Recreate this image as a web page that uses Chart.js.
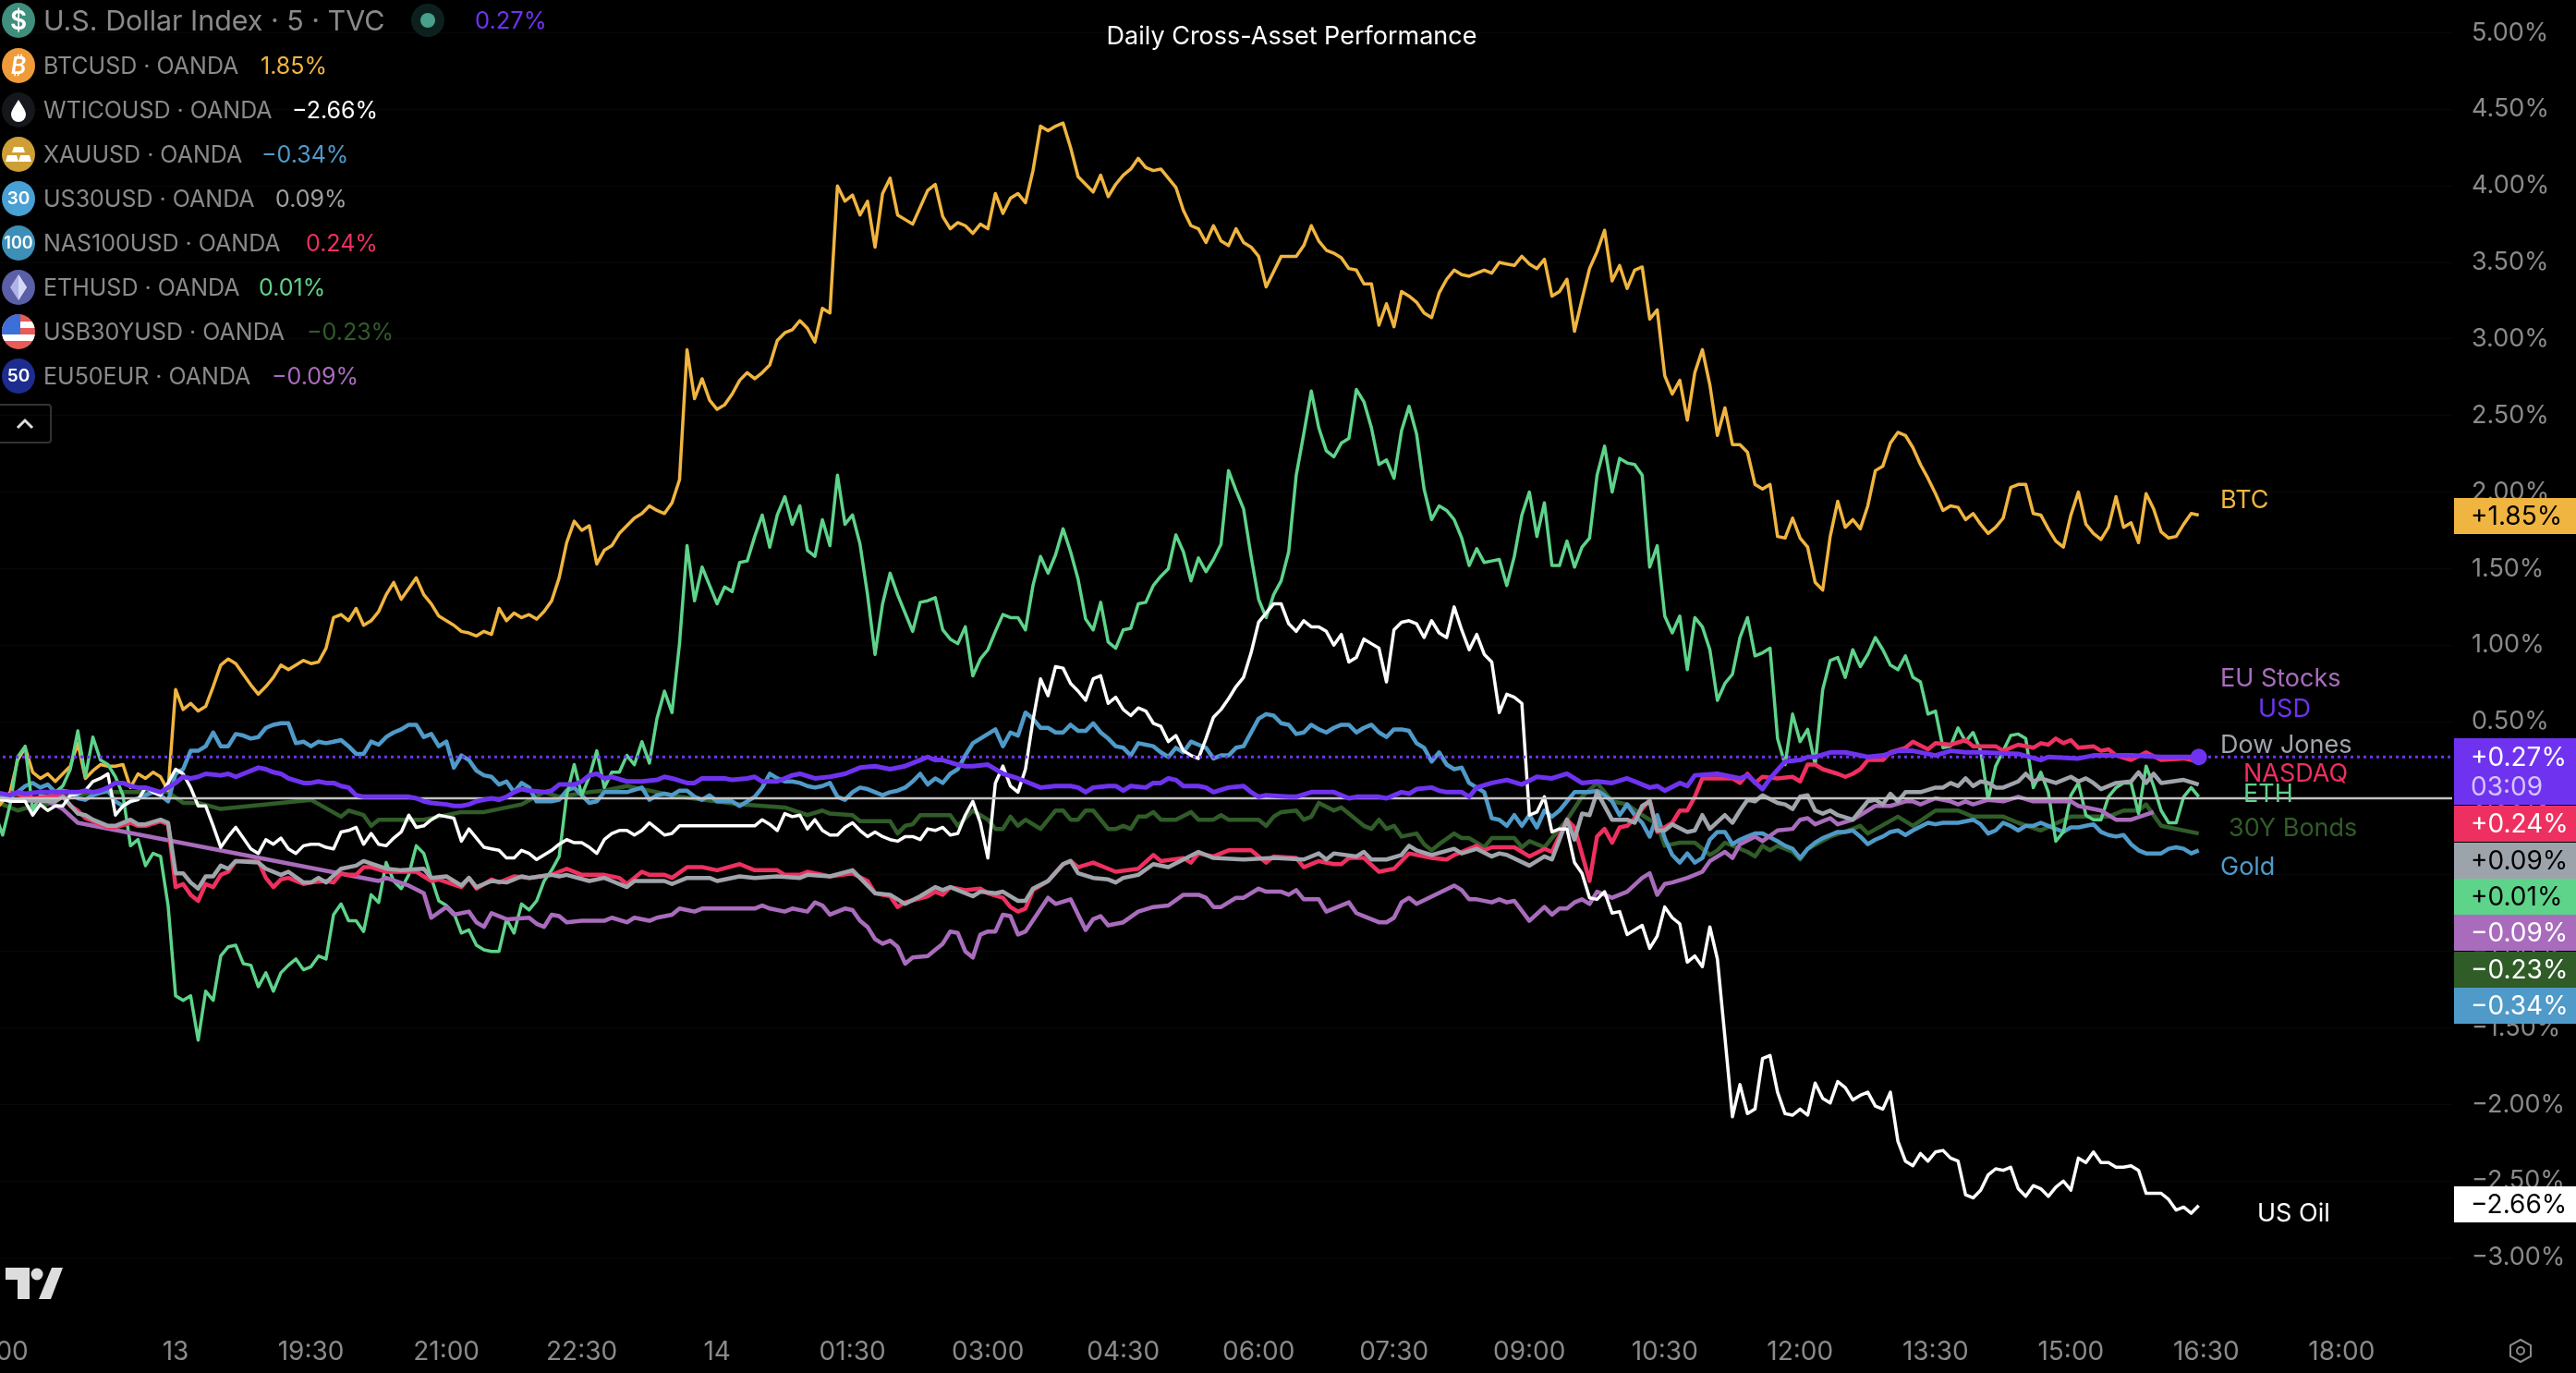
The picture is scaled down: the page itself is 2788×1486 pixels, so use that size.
<!DOCTYPE html>
<html>
<head>
<meta charset="utf-8">
<title>Daily Cross-Asset Performance</title>
<script src="https://cdn.jsdelivr.net/npm/chart.js@4"></script>
<style>
html, body { margin: 0; width: 2788px; height: 1486px; overflow: hidden; background: #000; }
canvas { position: absolute; left: -60px; top: 0; }
#legend { position: absolute; left: 0; top: 0; font-family: Inter, sans-serif; color: #8a8a8a; }
.row { position: absolute; left: 0; height: 40px; white-space: nowrap; font-size: 25px; line-height: 40px; }
.row .ico { position: absolute; left: 2px; top: 1px; width: 36px; height: 38px; border-radius: 50%; color: #fff; text-align: center; font-weight: 600; overflow: hidden; }
.row .name { position: absolute; left: 47px; top: 0; }
.row .val { position: absolute; top: 0; }
#collapse { position: absolute; left: -4px; top: 437px; width: 56px; height: 39px; border: 2px solid #333; border-radius: 4px; }
#logo { position: absolute; left: 6px; top: 1372px; }
#gear { position: absolute; left: 2714px; top: 1448px; }
</style>
</head>
<body>
<canvas id="chart" width="2848" height="1486"></canvas>
<div id="legend"></div>
<div id="collapse"><svg width="56" height="39"><path d="M21 24 L29 16 L37 24" fill="none" stroke="#ddd" stroke-width="3"/></svg></div>
<svg id="logo" width="62" height="34"><path d="M0 0h26v34h-13V13H0z M50 0h12L49 34H36z" fill="#ddd"/><circle cx="34" cy="7" r="6.5" fill="#ddd"/></svg>
<svg id="gear" width="28" height="28"><path d="M14 2 L25 8 V20 L14 26 L3 20 V8 Z" fill="none" stroke="#8a8a8a" stroke-width="2"/><circle cx="14" cy="14" r="4" fill="none" stroke="#8a8a8a" stroke-width="2"/></svg>
<script>
// 5 minute bars, bar 0 sits just off the left edge
const allBars = Array.from({ length: 294 }, (_, i) => i);
const timeTickBars = [0, 24, 42, 60, 78, 96, 114, 132, 150, 168, 186, 204, 222, 240, 258, 276, 294, 312];
const timeTickLabels = ["16:00", "13", "19:30", "21:00", "22:30", "14", "01:30", "03:00", "04:30", "06:00", "07:30", "09:00", "10:30", "12:00", "13:30", "15:00", "16:30", "18:00"];
const pctTicks = [5, 4.5, 4, 3.5, 3, 2.5, 2, 1.5, 1, 0.5, 0, -0.5, -1, -1.5, -2, -2.5, -3];

const btcPct = [
  -.08,-.02,.04,.25,.33,.17,.13,.16,.11,.16,
  .21,.36,.13,.18,.22,.21,.21,.22,.07,.16,
  .13,.17,.14,.05,.71,.58,.62,.57,.60,.73,
  .87,.91,.88,.81,.74,.68,.73,.79,.87,.84,
  .87,.90,.88,.89,.98,1.18,1.20,1.16,1.24,1.13,
  1.16,1.22,1.33,1.41,1.30,1.37,1.44,1.33,1.27,1.19,
  1.16,1.13,1.09,1.08,1.06,1.09,1.07,1.24,1.16,1.21,
  1.18,1.20,1.17,1.22,1.29,1.44,1.67,1.81,1.75,1.78,
  1.53,1.62,1.65,1.73,1.78,1.83,1.86,1.91,1.88,1.86,
  1.93,2.08,2.93,2.61,2.74,2.60,2.54,2.57,2.64,2.73,
  2.78,2.74,2.78,2.83,2.99,3.04,3.06,3.12,3.07,2.98,
  3.20,3.17,4.00,3.90,3.94,3.81,3.90,3.60,3.95,4.05,
  3.81,3.78,3.75,3.86,3.97,4.01,3.80,3.72,3.76,3.74,
  3.69,3.75,3.72,3.95,3.82,3.92,3.95,3.89,4.10,4.39,
  4.36,4.39,4.41,4.25,4.06,4.01,3.96,4.07,3.93,4.01,
  4.07,4.11,4.18,4.12,4.10,4.11,4.05,3.99,3.84,3.74,
  3.72,3.63,3.74,3.64,3.61,3.72,3.63,3.60,3.54,3.34,
  3.44,3.54,3.54,3.54,3.61,3.74,3.64,3.58,3.56,3.53,
  3.46,3.45,3.36,3.36,3.09,3.23,3.08,3.31,3.28,3.24,
  3.17,3.14,3.30,3.39,3.45,3.42,3.41,3.43,3.45,3.43,
  3.50,3.49,3.48,3.54,3.49,3.46,3.52,3.28,3.31,3.39,
  3.05,3.26,3.46,3.57,3.71,3.38,3.48,3.33,3.45,3.47,
  3.13,3.19,2.76,2.64,2.73,2.47,2.78,2.93,2.70,2.37,
  2.55,2.31,2.31,2.26,2.05,2.02,2.05,1.71,1.70,1.83,
  1.70,1.64,1.41,1.36,1.71,1.94,1.77,1.82,1.76,1.91,
  2.14,2.17,2.32,2.39,2.37,2.29,2.18,2.09,1.99,1.88,
  1.91,1.90,1.82,1.86,1.79,1.73,1.77,1.83,2.03,2.05,
  2.05,1.86,1.85,1.76,1.68,1.64,1.85,2.00,1.79,1.73,
  1.69,1.77,1.97,1.77,1.80,1.67,1.99,1.89,1.74,1.70,
  1.71,1.79,1.86,1.85
];

const ethPct = [
  -.10,-.24,-.04,.27,.34,-.08,.02,.01,.04,.08,
  .19,.44,.14,.40,.25,.22,.14,.02,-.31,-.27,
  -.44,-.36,-.38,-.70,-1.29,-1.32,-1.29,-1.58,-1.26,-1.32,
  -1.03,-.97,-.96,-1.08,-1.09,-1.23,-1.14,-1.26,-1.14,-1.09,
  -1.05,-1.12,-1.10,-1.03,-1.05,-.76,-.69,-.80,-.80,-.87,
  -.63,-.68,-.42,-.54,-.59,-.50,-.31,-.36,-.52,-.67,
  -.70,-.75,-.88,-.86,-.96,-.99,-1.00,-1.00,-.79,-.88,
  -.69,-.73,-.67,-.54,-.47,-.38,.02,.22,.02,.14,
  .31,.07,.17,.17,.28,.22,.37,.23,.52,.70,
  .56,1.01,1.65,1.29,1.51,1.39,1.27,1.38,1.35,1.54,
  1.55,1.71,1.85,1.64,1.85,1.97,1.79,1.91,1.62,1.58,
  1.82,1.65,2.11,1.79,1.85,1.66,1.33,.94,1.27,1.47,
  1.33,1.21,1.09,1.28,1.29,1.31,1.10,1.04,1.01,1.12,
  .80,.91,.97,1.09,1.20,1.18,1.18,1.10,1.39,1.58,
  1.47,1.59,1.76,1.61,1.43,1.17,1.10,1.28,1.02,.98,
  1.10,1.11,1.27,1.28,1.39,1.45,1.50,1.72,1.61,1.42,
  1.57,1.48,1.56,1.66,2.14,2.01,1.89,1.58,1.30,1.18,
  1.33,1.42,1.61,2.11,2.38,2.66,2.42,2.27,2.23,2.32,
  2.35,2.67,2.59,2.42,2.18,2.21,2.09,2.40,2.56,2.38,
  2.02,1.82,1.91,1.88,1.82,1.70,1.52,1.63,1.54,1.55,
  1.56,1.39,1.58,1.85,2.00,1.71,1.93,1.52,1.52,1.68,
  1.51,1.64,1.70,2.11,2.30,2.00,2.22,2.19,2.18,2.11,
  1.51,1.65,1.19,1.08,1.19,.84,1.18,1.12,.97,.64,
  .75,.81,1.05,1.18,.93,.95,.98,.39,.22,.55,
  .37,.45,.22,.71,.90,.92,.79,.97,.86,.94,
  1.05,.97,.87,.84,.93,.79,.76,.55,.57,.33,
  .34,.46,.37,.43,.31,-.01,.21,.31,.41,.42,
  .39,.07,.17,.04,-.28,-.22,.02,.10,-.11,-.14,
  -.14,.01,.07,.10,.10,-.10,.21,.08,-.08,-.16,
  -.16,.01,.07,.01
];

const oilPct = [
  -.01,-.01,-.02,-.02,-.02,-.11,-.04,-.08,-.05,-.05,
  .02,.03,.05,.11,.13,.16,-.11,-.05,-.02,-.01,
  .07,.04,.02,.10,.19,.16,.07,-.05,-.05,-.18,
  -.32,-.25,-.19,-.26,-.33,-.36,-.27,-.30,-.26,-.33,
  -.36,-.31,-.30,-.30,-.32,-.33,-.22,-.21,-.19,-.30,
  -.23,-.30,-.31,-.26,-.22,-.11,-.19,-.18,-.14,-.11,
  -.12,-.13,-.28,-.20,-.26,-.32,-.33,-.34,-.39,-.39,
  -.34,-.36,-.40,-.37,-.34,-.30,-.27,-.29,-.29,-.32,
  -.36,-.27,-.23,-.21,-.21,-.24,-.21,-.16,-.20,-.24,
  -.23,-.18,-.18,-.18,-.18,-.18,-.18,-.18,-.18,-.18,
  -.18,-.18,-.14,-.17,-.21,-.10,-.12,-.11,-.20,-.14,
  -.21,-.24,-.24,-.19,-.16,-.21,-.25,-.22,-.25,-.27,
  -.28,-.25,-.25,-.27,-.20,-.21,-.19,-.24,-.23,-.11,
  -.02,-.16,-.39,.10,.21,.08,.04,.19,.51,.78,
  .67,.86,.85,.75,.70,.64,.78,.80,.62,.66,
  .58,.54,.59,.57,.49,.47,.37,.41,.31,.28,
  .26,.39,.53,.58,.65,.73,.79,.95,1.15,1.21,
  1.27,1.27,1.14,1.09,1.16,1.12,1.12,1.09,1.00,1.07,
  .89,.92,1.04,1.01,.98,.76,1.10,1.15,1.16,1.14,
  1.05,1.16,1.08,1.05,1.25,1.10,.97,1.07,.94,.89,
  .56,.68,.66,.62,-.11,-.09,.01,-.22,-.20,-.20,
  -.42,-.49,-.65,-.66,-.61,-.75,-.74,-.89,-.86,-.83,
  -.98,-.90,-.71,-.78,-.82,-1.07,-1.03,-1.10,-.84,-1.05,
  -1.56,-2.08,-1.87,-2.06,-2.03,-1.70,-1.68,-1.92,-2.06,-2.07,
  -2.03,-2.07,-1.86,-1.96,-1.99,-1.85,-1.89,-1.97,-1.94,-1.92,
  -2.01,-2.03,-1.92,-2.24,-2.37,-2.40,-2.32,-2.37,-2.31,-2.30,
  -2.35,-2.37,-2.59,-2.61,-2.56,-2.46,-2.42,-2.43,-2.41,-2.55,
  -2.60,-2.53,-2.55,-2.60,-2.54,-2.50,-2.56,-2.35,-2.38,-2.31,
  -2.38,-2.38,-2.41,-2.41,-2.40,-2.43,-2.58,-2.58,-2.58,-2.62,
  -2.69,-2.67,-2.71,-2.66
];

const goldBars = [0,2,3,4,5,6,7,8,9,10,11,12,13,15,16,17,18,20,21,22,23,24,25,26,27,28,29,30,31,32,33,34,35,36,37,38,39,40,41,42,43,44,45,46,47,48,49,50,51,52,53,54,55,56,57,58,59,60,61,62,63,64,65,66,67,68,69,70,71,72,73,74,75,76,77,78,79,80,81,82,84,86,87,88,89,90,91,92,93,94,95,96,98,99,100,101,102,103,104,105,106,107,108,109,110,
  111,112,113,114,115,116,117,118,119,120,121,122,123,124,125,126,127,128,129,130,131,132,133,134,135,136,137,138,139,140,141,142,143,144,145,146,147,148,149,150,151,152,153,154,155,156,157,158,159,160,161,162,163,164,165,166,167,168,169,170,171,172,173,174,175,176,177,178,179,180,181,182,183,184,185,186,187,188,189,190,191,192,193,194,195,196,197,198,
  199,200,201,202,203,204,205,206,207,208,209,210,211,212,213,214,215,216,217,218,219,220,221,222,223,224,225,226,227,228,229,230,231,232,233,234,235,237,238,239,240,241,242,243,244,245,246,247,248,249,250,251,252,253,254,255,257,258,259,261,263,264,265,266,267,268,269,270,271,272,273,274,275,276,277,278,279,280,281,282,283,284,285,286,287,288,289,290,291,292,293];
const goldPct = [0,.01,.04,.08,.10,.07,.09,.04,.05,.04,0,-.01,.02,.05,-.02,-.05,-.02,.02,.04,.02,-.02,.16,.19,.31,.31,.34,.43,.34,.34,.42,.41,.39,.40,.46,.48,.49,.49,.36,.37,.34,.37,.36,.37,.38,.34,.29,.29,.37,.35,.40,.43,.45,.48,.48,.40,.42,.34,.37,.20,.28,.25,.18,.15,.14,.09,.11,.04,.10,.07,-.02,-.02,-.02,-.01,.05,.07,.02,-.03,-.02,.04,.04,.04,.07,-.01,.02,.03,.02,.05,.05,.01,-.01,.02,-.02,-.02,-.05,-.02,.01,.07,.16,.13,.11,.11,.10,.08,.07,.08,
  .10,.01,-.01,.04,.07,.06,.04,.02,.04,.05,.07,.11,.16,.09,.13,.10,.16,.19,.28,.36,.39,.42,.45,.34,.43,.41,.56,.52,.46,.46,.43,.43,.48,.44,.44,.49,.43,.39,.34,.33,.28,.36,.35,.34,.30,.27,.33,.30,.37,.35,.33,.26,.28,.28,.33,.34,.43,.52,.55,.54,.49,.48,.42,.43,.48,.45,.43,.46,.48,.48,.43,.46,.48,.43,.40,.45,.45,.44,.36,.33,.24,.30,.22,.19,.20,.10,.07,.04,
  -.13,-.14,-.18,-.11,-.18,-.11,-.19,-.08,-.12,-.08,-.02,.04,.04,.04,.05,.02,-.02,-.11,-.04,-.11,-.16,-.25,-.11,-.26,-.37,-.42,-.36,-.42,-.39,-.27,-.22,-.22,-.30,-.27,-.25,-.23,-.23,-.28,-.31,-.33,-.39,-.33,-.29,-.26,-.24,-.22,-.22,-.21,-.25,-.30,-.27,-.25,-.22,-.21,-.24,-.21,-.16,-.17,-.16,-.16,-.14,-.17,-.23,-.21,-.16,-.18,-.21,-.18,-.18,-.16,-.18,-.20,-.22,-.19,-.19,-.18,-.17,-.22,-.24,-.25,-.24,-.30,-.34,-.36,-.36,-.36,-.33,-.32,-.33,-.36,-.34];

const usdBars = [0,2,3,4,6,7,9,11,12,13,14,15,16,17,18,19,20,22,23,24,25,26,27,28,30,31,32,33,35,36,37,38,39,41,42,43,44,45,46,47,48,49,50,52,53,55,56,57,58,60,61,62,63,64,65,66,67,68,69,70,71,73,74,75,77,78,79,80,81,82,84,85,86,88,89,90,92,93,94,96,97,98,100,101,102,104,106,107,109,111,113,115,117,119,121,123,124,125,126,128,129,130,132,134,136,137,139,141,143,144,145,146,148,149,150,151,153,154,155,156,157,158,160,161,162,164,166,167,168,169,172,173,175,176,178,180,181,183,184,185,187,188,189,191,192,193,195,196,197,199,201,203,205,207,209,211,213,215,217,220,221,222,224,225,226,229,232,233,235,236,238,240,241,242,244,246,249,251,253,255,258,260,262,264,269,272,273,277,279,284,288,293];
const usdPct = [.04,.02,.04,.03,.04,.04,.04,.04,.05,.04,.05,.07,.10,.10,.08,.07,.07,.04,.07,.10,.14,.13,.14,.16,.15,.16,.14,.16,.20,.19,.17,.16,.13,.10,.10,.11,.10,.10,.08,.07,.02,.01,.01,.01,.01,.01,0,-.02,-.03,-.04,-.05,-.05,-.04,-.02,-.01,0,-.01,.01,.04,.06,.05,.04,.05,.09,.09,.11,.15,.16,.13,.14,.11,.11,.11,.12,.14,.13,.10,.10,.13,.13,.13,.12,.13,.14,.11,.11,.15,.16,.13,.14,.16,.20,.21,.19,.21,.25,.27,.25,.25,.22,.21,.21,.22,.16,.13,.11,.07,.08,.08,.07,.04,.07,.08,.08,.05,.08,.07,.10,.10,.13,.12,.08,.08,.07,.04,.07,.08,.04,.01,.02,.01,.01,.04,.04,.04,0,.01,.01,.01,0,.04,.03,.06,.07,.05,.04,.04,.01,.07,.10,.12,.09,.14,.13,.16,.10,.11,.10,.13,.07,.08,.05,.10,.08,.15,.16,.13,.15,.06,.13,.24,.25,.27,.27,.30,.30,.27,.28,.31,.31,.28,.31,.30,.30,.29,.25,.27,.26,.28,.28,.27,.27];

const nasBars = [2,5,9,10,11,12,14,15,16,18,19,20,22,23,24,25,26,27,28,29,30,31,32,35,36,37,38,39,40,41,42,44,45,46,47,48,49,50,52,54,56,58,59,62,63,64,66,67,69,71,74,76,78,81,83,84,86,87,89,90,92,94,96,99,101,104,105,107,108,111,114,116,117,119,120,121,124,125,126,127,129,131,132,134,135,136,137,138,140,142,143,144,146,148,149,152,154,155,158,159,160,162,164,167,169,170,173,174,176,178,179,180,182,184,186,188,191,193,194,197,198,199,202,204,206,207,209,210,212,213,214,215,216,217,218,220,221,223,224,225,226,227,228,231,232,233,234,235,237,239,240,241,242,243,245,246,247,248,249,251,252,254,255,257,258,260,262,263,266,267,269,271,272,273,274,275,276,277,279,280,281,282,284,286,288,291,293];
const nasPct = [.04,0,.02,-.05,-.08,-.13,-.17,-.19,-.19,-.16,-.18,-.18,-.15,-.17,-.58,-.56,-.63,-.67,-.56,-.58,-.50,-.48,-.41,-.41,-.52,-.58,-.53,-.52,-.54,-.56,-.55,-.54,-.55,-.49,-.50,-.50,-.45,-.45,-.48,-.48,-.48,-.54,-.53,-.58,-.52,-.59,-.53,-.55,-.51,-.52,-.50,-.46,-.50,-.50,-.52,-.56,-.48,-.50,-.50,-.52,-.45,-.45,-.47,-.43,-.47,-.47,-.50,-.50,-.48,-.51,-.49,-.54,-.62,-.64,-.71,-.68,-.64,-.61,-.63,-.58,-.60,-.59,-.62,-.65,-.71,-.74,-.72,-.60,-.54,-.43,-.41,-.45,-.42,-.46,-.48,-.46,-.37,-.41,-.39,-.42,-.36,-.38,-.34,-.34,-.42,-.38,-.39,-.45,-.41,-.43,-.43,-.39,-.39,-.48,-.46,-.36,-.39,-.40,-.37,-.31,-.34,-.32,-.32,-.38,-.33,-.35,-.14,-.19,-.54,-.25,-.20,-.29,-.19,-.18,-.13,-.01,-.22,-.16,-.08,-.08,.01,.13,.13,.13,.10,.16,.10,.14,.13,.14,.11,.22,.22,.19,.16,.14,.16,.19,.25,.25,.30,.33,.37,.32,.36,.35,.38,.34,.34,.31,.35,.33,.36,.35,.39,.36,.38,.33,.34,.31,.32,.28,.25,.30,.25,.26,.24];

const dowBars = [0,3,8,9,11,12,13,15,16,18,19,20,22,23,24,25,26,27,28,29,30,31,32,35,36,38,39,41,42,43,44,46,48,49,52,54,57,58,60,62,63,64,66,68,70,71,74,75,76,79,81,82,84,85,89,90,92,95,96,99,101,104,107,108,111,114,115,117,119,121,123,125,126,127,129,130,131,133,134,136,137,138,140,142,143,144,146,148,149,150,152,154,156,158,160,162,166,170,174,176,177,178,181,182,183,185,187,188,189,191,194,195,197,199,200,201,204,206,207,209,210,211,212,213,215,217,218,219,220,221,222,223,225,226,227,228,230,231,232,233,234,235,237,238,239,240,241,242,243,244,245,247,248,249,250,251,252,253,254,256,258,259,260,261,262,263,264,265,266,267,269,270,271,272,274,276,277,278,279,280,282,284,285,286,287,288,291,293];
const dowPct = [0,-.01,-.02,.01,-.10,-.11,-.14,-.18,-.18,-.14,-.17,-.17,-.14,-.16,-.49,-.49,-.55,-.59,-.51,-.51,-.44,-.46,-.41,-.42,-.46,-.50,-.48,-.55,-.55,-.52,-.55,-.46,-.44,-.41,-.46,-.47,-.46,-.52,-.51,-.57,-.52,-.58,-.54,-.55,-.51,-.52,-.50,-.51,-.50,-.54,-.52,-.54,-.58,-.54,-.54,-.56,-.52,-.52,-.54,-.51,-.52,-.51,-.52,-.50,-.51,-.47,-.52,-.62,-.63,-.69,-.64,-.58,-.60,-.58,-.62,-.64,-.61,-.62,-.61,-.67,-.67,-.59,-.54,-.43,-.41,-.49,-.52,-.53,-.55,-.52,-.50,-.43,-.45,-.40,-.35,-.39,-.40,-.39,-.40,-.36,-.40,-.36,-.38,-.35,-.40,-.40,-.37,-.31,-.34,-.37,-.33,-.36,-.33,-.38,-.36,-.37,-.44,-.38,-.40,-.14,-.27,-.10,-.11,.04,-.14,-.14,-.16,-.05,-.02,-.21,-.21,-.17,-.22,-.21,-.11,-.20,-.11,-.16,-.08,-.01,-.02,.02,-.03,-.04,-.07,.01,.02,-.08,-.10,-.08,-.11,-.14,-.08,-.02,-.01,-.04,.03,-.02,.04,.04,.07,.07,.10,.08,.13,.08,.11,.10,.07,.07,.11,.16,.11,.13,.10,.14,.11,.13,.10,.06,.10,.11,.17,.10,.16,.10,.12,.09];

const bondBars = [0,3,5,7,9,14,23,25,27,30,42,46,47,49,50,51,57,62,65,70,73,75,79,81,84,88,91,99,105,108,110,111,114,115,119,120,121,122,123,127,128,130,132,133,134,135,136,137,139,141,142,143,144,145,146,148,149,150,151,152,153,154,155,157,159,160,162,163,164,168,169,170,171,173,174,175,176,178,179,182,183,184,185,186,187,189,190,191,192,194,195,196,198,199,202,203,204,206,209,211,213,215,217,219,221,222,224,226,228,229,230,233,234,235,236,237,239,240,241,244,247,248,249,253,255,258,261,263,267,269,272,276,281,283,285,286,288,293];
const bondPct = [-.02,-.08,-.05,-.04,.01,.04,.04,-.03,-.03,-.07,-.01,-.12,-.08,-.11,-.18,-.14,-.14,-.09,-.09,-.04,.04,.01,.04,.05,.08,.04,.01,-.04,-.06,-.11,-.08,-.10,-.11,-.15,-.15,-.23,-.18,-.17,-.11,-.11,-.18,-.08,-.14,-.20,-.20,-.12,-.18,-.14,-.20,-.08,-.08,-.14,-.14,-.08,-.08,-.20,-.20,-.18,-.20,-.12,-.12,-.09,-.14,-.14,-.09,-.14,-.14,-.11,-.14,-.14,-.18,-.12,-.09,-.08,-.14,-.12,-.03,-.08,-.06,-.18,-.20,-.14,-.20,-.18,-.25,-.23,-.30,-.34,-.30,-.23,-.26,-.26,-.32,-.26,-.26,-.32,-.28,-.32,-.14,.01,.10,-.02,-.04,-.11,-.17,-.31,-.29,-.29,-.37,-.34,-.29,-.35,-.38,-.31,-.34,-.31,-.35,-.40,-.33,-.25,-.20,-.18,-.23,-.12,-.18,-.08,-.08,-.12,-.12,-.16,-.21,-.12,-.12,-.08,-.08,-.04,-.18,-.23];

const euBars = [0,7,9,11,51,52,55,57,58,60,61,63,64,65,66,68,71,72,73,74,75,76,78,81,82,84,85,87,88,90,91,93,94,101,102,103,105,106,108,109,110,111,113,114,115,116,117,118,119,120,121,122,124,125,126,127,128,129,130,131,132,133,134,135,136,137,140,141,143,145,146,147,148,150,152,154,156,158,160,161,162,163,165,166,168,169,171,172,173,174,176,177,180,181,182,184,185,186,187,188,189,194,195,196,197,199,200,201,202,204,206,207,208,209,210,211,212,213,215,217,219,220,221,222,223,225,227,228,230,231,232,234,235,237,239,240,241,242,244,245,247,249,250,252,254,255,256,258,260,261,262,263,265,267,269,271,276,277,280,282,284,287];
const euPct = [0,-.02,-.07,-.16,-.54,-.52,-.57,-.62,-.78,-.71,-.76,-.74,-.81,-.84,-.75,-.79,-.78,-.82,-.84,-.76,-.77,-.81,-.80,-.80,-.78,-.81,-.78,-.80,-.78,-.76,-.72,-.74,-.72,-.72,-.70,-.72,-.74,-.72,-.74,-.68,-.70,-.76,-.72,-.73,-.80,-.84,-.92,-.95,-.93,-.97,-1.08,-1.04,-1.03,-.99,-.95,-.87,-.88,-1.00,-1.04,-.89,-.87,-.87,-.76,-.77,-.89,-.87,-.65,-.69,-.66,-.86,-.79,-.77,-.83,-.81,-.74,-.71,-.70,-.63,-.63,-.65,-.71,-.71,-.65,-.65,-.59,-.61,-.61,-.63,-.60,-.66,-.66,-.74,-.68,-.75,-.77,-.81,-.81,-.78,-.68,-.65,-.69,-.57,-.60,-.66,-.66,-.68,-.66,-.68,-.67,-.80,-.71,-.76,-.72,-.72,-.68,-.66,-.69,-.61,-.65,-.61,-.52,-.49,-.63,-.56,-.55,-.52,-.48,-.41,-.35,-.39,-.30,-.25,-.28,-.21,-.20,-.14,-.13,-.17,-.13,-.17,-.14,-.08,-.05,-.05,-.02,-.02,-.04,0,-.02,-.04,-.02,-.04,-.01,-.02,.01,-.02,-.02,-.05,-.08,-.14,-.14,-.09];

const seriesNames = ["USD", "US Oil", "Dow Jones", "NASDAQ", "EU Stocks", "ETH", "Gold", "BTC", "30Y Bonds"];
const seriesColors = ["#6f33f0", "#ffffff", "#a0a5ac", "#ee3060", "#a96cbc", "#5ed38a", "#4f9ac8", "#f0b540", "#305c28"];

const legendNames = ["BTCUSD · OANDA", "WTICOUSD · OANDA", "XAUUSD · OANDA", "US30USD · OANDA", "NAS100USD · OANDA", "ETHUSD · OANDA", "USB30YUSD · OANDA", "EU50EUR · OANDA"];
const legendValues = ["1.85%", "−2.66%", "−0.34%", "0.09%", "0.24%", "0.01%", "−0.23%", "−0.09%"];
const legendValueColors = ["#f0b540", "#ffffff", "#4f9ac8", "#a0a0a0", "#ee3060", "#5ed38a", "#305c28", "#a96cbc"];
const legendValueLeft = [282, 316, 283, 298, 331, 280, 332, 294];

const tagTexts = ["+1.85%", "+0.24%", "+0.09%", "+0.01%", "−0.09%", "−0.23%", "−0.34%", "−2.66%"];
const tagBacks = ["#f0b540", "#ee3060", "#9da3ab", "#5ed38a", "#a96cbc", "#305c28", "#4f9ac8", "#ffffff"];
const tagFronts = ["#000", "#fff", "#000", "#000", "#fff", "#fff", "#fff", "#000"];
const tagTops = [539, 872, 912, 951, 990, 1030, 1069, 1284];

const labelTexts = ["BTC", "EU Stocks", "USD", "Dow Jones", "NASDAQ", "ETH", "30Y Bonds", "Gold", "US Oil"];
const labelColors = ["#f0b540", "#a96cbc", "#6f33f0", "#a0a5ac", "#ee3060", "#5ed38a", "#305c28", "#4f9ac8", "#ffffff"];
const labelLeft = [2403, 2403, 2444, 2403, 2428, 2428, 2412, 2403, 2443];
const labelMid = [542, 735, 768, 807, 838, 860, 897, 939, 1314];

const lastUsd = 0.27;
const xMin = -6.72, xMax = 326.7, yMin = -3.452, yMax = 5.214;

function toPoints(bars, vals) {
    return vals.map((v, i) => ({ x: bars[i], y: v }));
}

// chart.js reserves room for the outer tick labels, the plot has to run edge to edge
function noScalePadding(s) {
    s.paddingLeft = s.paddingRight = s.paddingTop = s.paddingBottom = 0;
}

const icons = [
    `<div class="ico" style="background:#ef9b38;font-size:25px;line-height:38px;font-style:italic">₿</div>`,
    `<div class="ico" style="background:#14171c"><svg width="36" height="38"><path d="M18 8 C23 16 26 20 26 24 A8 8 0 0 1 10 24 C10 20 13 16 18 8Z" fill="#fff"/></svg></div>`,
    `<div class="ico" style="background:#cf9f36"><svg width="36" height="38"><path d="M13 11h10l2 6H11z M6 20h10l2 7H4z M20 20h10l2 7H18z" fill="#fff"/></svg></div>`,
    `<div class="ico" style="background:#48a0d4;font-size:19px;line-height:38px">30</div>`,
    `<div class="ico" style="background:#3d8fb8;font-size:18px;line-height:38px">100</div>`,
    `<div class="ico" style="background:#5a5fa6"><svg width="36" height="38"><path d="M18 5 L27 19 L18 33 L9 19Z" fill="#aeb3e8"/><path d="M18 5 L18 33 L27 19Z" fill="#d6d9f5"/></svg></div>`,
    `<div class="ico" style="background:#e85b57"><svg width="36" height="38"><rect y="8" width="36" height="7" fill="#fff"/><rect y="22" width="36" height="7" fill="#fff"/><rect width="20" height="22" fill="#3d6fd8"/></svg></div>`,
    `<div class="ico" style="background:#1d2d8f;font-size:19px;line-height:38px">50</div>`
];

// legend at the top left
let legendHtml = `<div class="row" style="top:2px;font-size:30.4px">
  <div class="ico" style="background:#3f8f7c;font-size:28px;line-height:38px">$</div>
  <div class="name">U.S. Dollar Index · 5 · TVC</div>
  <div style="position:absolute;left:445px;top:2px;width:36px;height:36px;border-radius:50%;background:#0c211d"></div>
  <div style="position:absolute;left:455px;top:12px;width:16px;height:16px;border-radius:50%;background:#49a08c"></div>
  <div class="val" style="left:514px;color:#6f33f0;font-size:25.5px">0.27%</div></div>`;
legendNames.forEach((name, i) => {
    legendHtml += `<div class="row" style="top:${51 + i * 48}px">${icons[i]}<div class="name">${name}</div>
      <div class="val" style="left:${legendValueLeft[i]}px;color:${legendValueColors[i]}">${legendValues[i]}</div></div>`;
});
document.getElementById("legend").innerHTML = legendHtml;

// price tags, drawing labels and title sit on top of the axis
const overlayPlugin = {
    id: "overlay",
    afterDraw(chart) {
        const ctx = chart.ctx;
        const off = 60;
        ctx.save();
        ctx.textBaseline = "middle";
        ctx.textAlign = "left";

        ctx.font = "27px Inter";
        labelTexts.forEach((t, i) => {
            ctx.fillStyle = labelColors[i];
            ctx.fillText(t, labelLeft[i] + off, labelMid[i]);
        });

        ctx.fillStyle = "#ffffff";
        ctx.textAlign = "center";
        ctx.fillText("Daily Cross-Asset Performance", 1398 + off, 40);
        ctx.textAlign = "left";

        ctx.fillStyle = "#6f33f0";
        ctx.fillRect(2656 + off, 799, 132, 72);
        ctx.font = "28px Inter";
        ctx.fillStyle = "#ffffff";
        ctx.fillText("+0.27%", 2674 + off, 821);
        ctx.fillStyle = "#d4c4fb";
        ctx.fillText("03:09", 2674 + off, 853);

        tagTexts.forEach((t, i) => {
            ctx.fillStyle = tagBacks[i];
            ctx.fillRect(2656 + off, tagTops[i], 132, 39);
            ctx.fillStyle = tagFronts[i];
            ctx.fillText(t, 2674 + off, tagTops[i] + 21);
        });
        ctx.restore();
    }
};

const seriesData = [
    toPoints(usdBars, usdPct), toPoints(allBars, oilPct), toPoints(dowBars, dowPct),
    toPoints(nasBars, nasPct), toPoints(euBars, euPct), toPoints(allBars, ethPct),
    toPoints(goldBars, goldPct), toPoints(allBars, btcPct), toPoints(bondBars, bondPct)
];
const seriesWidths = [5, 3.5, 4.5, 4.5, 4.5, 3.5, 4.5, 3.5, 4.5];

const datasets = seriesData.map((pts, i) => ({
    label: seriesNames[i],
    data: pts,
    borderColor: seriesColors[i],
    borderWidth: seriesWidths[i],
    pointRadius: i === 0 ? pts.map((p, j) => (j === pts.length - 1 ? 9 : 0)) : 0,
    pointBackgroundColor: seriesColors[i],
    pointBorderWidth: 0,
    tension: 0,
    borderJoinStyle: "round",
    fill: false
}));
// the last price line and the zero line
datasets.splice(1, 0, {
    label: "USD last",
    data: [{ x: xMin, y: lastUsd }, { x: xMax, y: lastUsd }],
    borderColor: "#6f33f0", borderWidth: 3, borderDash: [3, 4], pointRadius: 0, fill: false
}, {
    label: "Zero",
    data: [{ x: xMin, y: 0 }, { x: xMax, y: 0 }],
    borderColor: "#c4c4c4", borderWidth: 2.5, pointRadius: 0, fill: false
});

new Chart(document.getElementById("chart").getContext("2d"), {
    type: "line",
    data: { datasets: datasets },
    plugins: [overlayPlugin],
    options: {
        responsive: false,
        animation: false,
        devicePixelRatio: 1,
        layout: { padding: 0, autoPadding: false },
        plugins: { legend: { display: false }, tooltip: { enabled: false } },
        scales: {
            x: {
                type: "linear",
                min: xMin,
                max: xMax,
                afterBuildTicks: s => { s.ticks = timeTickBars.map(v => ({ value: v })); },
                afterFit: s => { s.height = 50; noScalePadding(s); },
                grid: { display: false, drawTicks: false },
                border: { display: false },
                ticks: {
                    autoSkip: false,
                    maxRotation: 0,
                    padding: 11,
                    color: "#8a8a8a",
                    font: { family: "Inter", size: 28 },
                    callback: (v, i) => timeTickLabels[i]
                }
            },
            y: {
                position: "right",
                min: yMin,
                max: yMax,
                afterBuildTicks: s => { s.ticks = pctTicks.map(v => ({ value: v })); },
                afterFit: s => { s.width = 134; noScalePadding(s); },
                grid: { color: "#080808", lineWidth: 1, drawTicks: false },
                border: { display: false },
                ticks: {
                    autoSkip: false,
                    padding: 21,
                    crossAlign: "near",
                    color: "#8a8a8a",
                    font: { family: "Inter", size: 27 },
                    callback: v => (v < 0 ? "−" : "") + Math.abs(v).toFixed(2) + "%"
                }
            }
        }
    }
});
</script>
</body>
</html>
